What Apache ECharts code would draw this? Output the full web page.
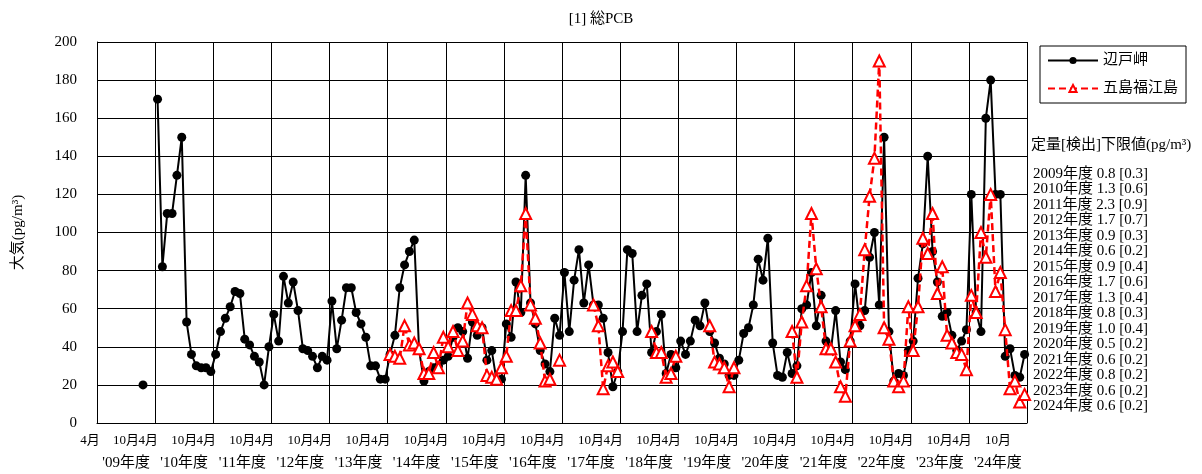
<!DOCTYPE html>
<html><head><meta charset="utf-8">
<script src="https://cdn.jsdelivr.net/npm/echarts@6/dist/echarts.min.js"></script>
<style>html,body{margin:0;padding:0;background:#fff}#c{width:1202px;height:474px}</style>
</head><body><div id="c"></div>
<script>
const FONT = "'Liberation Serif','Times New Roman','Noto Sans CJK JP',serif";
const chartTitle = '[1] 総PCB';
const seriesNames = ['辺戸岬', '五島福江島'];
const fiscalYears = ['09','10','11','12','13','14','15','16','17','18','19','20','21','22','23','24'];
const monthLabels = ['4月', '10月'];
const yTicks = [0, 200, 20];
// monthly values, April of FY2009 -> March of FY2024 (12 per row = one fiscal year)
const hedoMisaki = [
  null,null,null,null,null,null,null,null,null,20,null,null,
  170,82,110,110,130,150,53,36,30,29,29,27,
  36,48,55,61,69,68,44,41,35,32,20,40,
  57,43,77,63,74,59,39,38,35,29,35,33,
  64,39,54,71,71,58,52,45,30,30,23,23,
  36,46,71,83,90,96,38,22,27,29,30,33,
  35,45,50,48,34,53,46,50,33,38,22,23,
  52,45,74,58,130,63,52,38,31,27,55,46,
  79,48,75,91,63,83,62,62,55,37,19,27,
  48,91,89,48,67,73,37,48,57,26,36,29,
  43,36,43,54,51,63,48,42,34,31,25,25,
  33,47,50,62,86,75,97,42,25,24,37,26,
  30,60,62,79,51,67,43,38,59,32,28,43,
  73,51,59,87,100,62,150,48,22,26,25,38,
  43,76,94,140,90,74,56,58,46,38,43,49,
  120,58,48,160,180,120,120,35,39,25,24,36
];
const gotoFukue = [
  null,null,null,null,null,null,null,null,null,null,null,null,
  null,null,null,null,null,null,null,null,null,null,null,null,
  null,null,null,null,null,null,null,null,null,null,null,null,
  null,null,null,null,null,null,null,null,null,null,null,null,
  null,null,null,null,null,null,null,null,null,null,null,null,
  36,35,34,51,41,42,39,26,26,37,29,45,
  40,48,38,43,63,57,51,50,25,24,23,29,
  35,59,59,72,110,62,55,42,22,23,null,33,
  null,null,null,null,null,null,62,51,18,30,32,27,
  null,null,null,null,null,null,48,37,37,24,26,35,
  null,null,null,null,null,null,51,32,31,29,19,29,
  null,null,null,null,null,null,null,null,null,null,null,48,
  24,53,72,110,81,61,39,39,32,19,14,43,
  51,57,91,119,139,190,50,44,22,19,22,61,
  38,61,97,89,110,68,82,46,42,37,36,28,
  67,58,100,87,120,69,79,49,18,22,11,15
];
const limitTitle = '定量[検出]下限値(pg/m³)';
const limitLines = [
  '2009年度 0.8 [0.3]','2010年度 1.3 [0.6]','2011年度 2.3 [0.9]','2012年度 1.7 [0.7]',
  '2013年度 0.9 [0.3]','2014年度 0.6 [0.2]','2015年度 0.9 [0.4]','2016年度 1.7 [0.6]',
  '2017年度 1.3 [0.4]','2018年度 0.8 [0.3]','2019年度 1.0 [0.4]','2020年度 0.5 [0.2]',
  '2021年度 0.6 [0.2]','2022年度 0.8 [0.2]','2023年度 0.6 [0.2]','2024年度 0.6 [0.2]'
];

const nMonths = fiscalYears.length * 12;
const toPts = arr => arr.map((v, i) => [i + 0.5, v == null ? '-' : v]);

const chart = echarts.init(document.getElementById('c'), null, {renderer: 'canvas'});
chart.setOption({
  animation: false,
  backgroundColor: '#fff',
  title: {text: chartTitle, left: 'center', top: 7,
    textStyle: {fontFamily: FONT, fontSize: 15, fontWeight: 'normal', color: '#000'}},
  grid: {left: 97, right: 175, top: 42, bottom: 50},
  legend: {
    orient: 'vertical', left: 1040, top: 46, padding: [7, 8, 7, 7], itemGap: 13,
    itemWidth: 50, itemHeight: 9, borderColor: '#000', borderWidth: 1,
    textStyle: {fontFamily: FONT, fontSize: 15, color: '#000'},
    data: seriesNames
  },
  xAxis: [{
    // October ticks: month + fiscal-year labels
    type: 'value', min: 0, max: nMonths, interval: 6,
    axisLine: {show: true, lineStyle: {color: '#000', width: 1}},
    axisTick: {show: false}, splitLine: {show: false},
    axisLabel: {
      margin: 7, color: '#000', fontFamily: FONT, fontSize: 13, lineHeight: 22,
      formatter: function (v) {
        const m = Math.round(v);
        if (m >= nMonths || m % 12 !== 6) return '';
        return '{b|' + monthLabels[1] + '}\n{c|\'' + fiscalYears[Math.floor(m / 12)] + '年度}';
      },
      rich: {
        b: {fontFamily: FONT, fontSize: 13, color: '#000', lineHeight: 22},
        c: {fontFamily: FONT, fontSize: 15, color: '#000', lineHeight: 22}
      }
    }
  }, {
    // April ticks (fiscal-year boundaries): grid lines + "4月" labels
    type: 'value', min: 0, max: nMonths, interval: 12, position: 'bottom',
    axisLine: {show: false}, axisTick: {show: false},
    axisLabel: {
      showMinLabel: true, margin: 7, color: '#000', fontFamily: FONT, fontSize: 13, lineHeight: 22,
      formatter: function (v) {
        const m = Math.round(v);
        if (m >= nMonths) return '';
        return '{a|' + monthLabels[0] + '}';
      },
      rich: {
        a: {fontFamily: FONT, fontSize: 13, color: '#000', lineHeight: 22, padding: [0, 14, 0, 0]}
      }
    },
    splitLine: {show: true, lineStyle: {color: '#000', width: 1}}
  }],
  yAxis: {
    type: 'value', min: yTicks[0], max: yTicks[1], interval: yTicks[2],
    name: '大気(pg/m³)', nameLocation: 'middle', nameGap: 71,
    nameTextStyle: {fontFamily: FONT, fontSize: 15, color: '#000'},
    axisLine: {show: true, lineStyle: {color: '#000', width: 1}},
    axisTick: {show: false},
    axisLabel: {margin: 20, color: '#000', fontFamily: FONT, fontSize: 15},
    splitLine: {show: true, lineStyle: {color: '#000', width: 1}}
  },
  graphic: [
    {type: 'text', left: 1031, top: 138,
      style: {text: limitTitle, font: '15px ' + FONT, fill: '#000'}},
    {type: 'text', left: 1033, top: 166,
      style: {text: limitLines.join('\n'), font: '15px ' + FONT, lineHeight: 15.5, fill: '#000'}}
  ],
  series: [{
    name: seriesNames[0], type: 'line', xAxisIndex: 0, data: toPts(hedoMisaki),
    connectNulls: false, symbol: 'circle', symbolSize: 9,
    itemStyle: {color: '#000'}, lineStyle: {color: '#000', width: 2}, z: 3
  }, {
    name: seriesNames[1], type: 'line', xAxisIndex: 0, data: toPts(gotoFukue),
    connectNulls: false, symbol: 'triangle', symbolSize: 11,
    itemStyle: {color: '#fff', borderColor: '#ff0000', borderWidth: 2},
    lineStyle: {color: '#ff0000', width: 2.5, type: [7, 4]}, z: 4
  }]
});
</script></body></html>
